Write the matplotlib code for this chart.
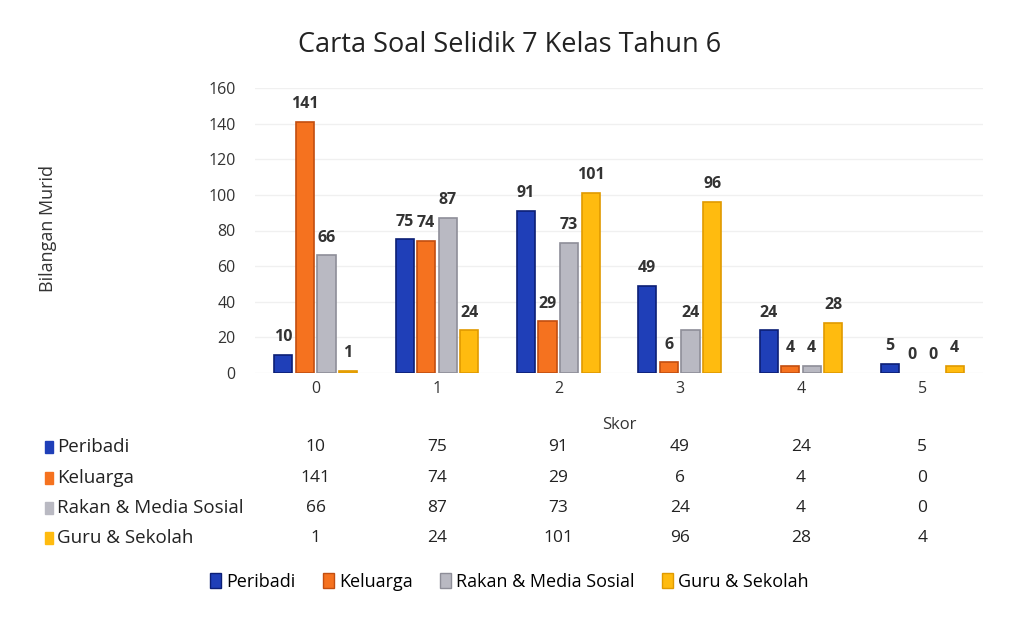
import matplotlib
matplotlib.use("Agg")
import matplotlib.pyplot as plt
import numpy as np
from matplotlib.patches import Patch
import matplotlib.transforms as mtransforms

skor = ["0", "1", "2", "3", "4", "5"]
series = ["Peribadi", "Keluarga", "Rakan & Media Sosial", "Guru & Sekolah"]
peribadi = [10, 75, 91, 49, 24, 5]
keluarga = [141, 74, 29, 6, 4, 0]
rakan = [66, 87, 73, 24, 4, 0]
guru = [1, 24, 101, 96, 28, 4]

colors = ["#1f3fb8", "#f5721f", "#b9b9c2", "#ffbb0f"]
edges = ["#0c1f75", "#c24e10", "#8e8e98", "#e09a00"]
font = "Open Sans"

fig = plt.figure(figsize=(10.09, 6.22), dpi=100)
fig.patch.set_facecolor("white")
ax = fig.add_axes([255 / 1009, 1 - 373 / 622, (983 - 255) / 1009, (373 - 88) / 622])

x = np.arange(len(skor))
width = 0.15
step = 0.178
data = [peribadi, keluarga, rakan, guru]
for i, vals in enumerate(data):
    pos = x + (i - 1.5) * step
    lw = [1.2 if v > 0 else 0 for v in vals]  # no outline for empty bars
    ax.bar(pos, vals, width, color=colors[i], edgecolor=edges[i], linewidth=lw, zorder=3)
    for px, v in zip(pos, vals):
        ax.annotate(str(v), xy=(px, v), xytext=(0, 7), textcoords="offset points",
                    ha="center", va="bottom", fontsize=11.5, fontweight="bold",
                    family=font, color="#333333")

ax.set_xlim(-0.5, 5.5)
ax.set_ylim(0, 160)
ax.set_yticks(range(0, 161, 20))
ax.set_xticks(x)
ax.set_xticklabels(skor)
ax.tick_params(axis="y", length=0, labelsize=11.5, labelcolor="#333333", pad=14)
ax.tick_params(axis="x", length=0, labelsize=11.5, labelcolor="#333333", pad=6)
for lab in ax.get_xticklabels() + ax.get_yticklabels():
    lab.set_family(font)
ax.yaxis.grid(True, color="#f0f0f0", linewidth=1, zorder=0)
for s in ax.spines.values():
    s.set_visible(False)

ax.set_xlabel("Skor", family=font, fontsize=12, color="#333333", labelpad=14)
fig.text(48 / 1009, 1 - 228 / 622, "Bilangan Murid", rotation=90, ha="center", va="center",
         family=font, fontsize=13, color="#333333")
fig.text(0.505, 1 - 45 / 622, "Carta Soal Selidik 7 Kelas Tahun 6", ha="center", va="center",
         family=font, fontsize=19.5, color="#222222")

# data table under the chart
trans = mtransforms.blended_transform_factory(ax.transData, fig.transFigure)
row_y = [447, 478, 508, 538]
for i, (name, vals) in enumerate(zip(series, data)):
    yy = 1 - row_y[i] / 622
    fig.patches.append(plt.Rectangle((45 / 1009, yy - 0.01), 8 / 1009, 0.02,
                                     transform=fig.transFigure, color=colors[i]))
    fig.text(57 / 1009, yy, name, ha="left", va="center", family=font,
             fontsize=13.5, color="#222222")
    for px, v in zip(x, vals):
        fig.text(px, yy, str(v), transform=trans, ha="center", va="center",
                 family=font, fontsize=12.5, color="#222222")

handles = [Patch(facecolor=c, edgecolor=e) for c, e in zip(colors, edges)]
fig.legend(handles, series, loc="center", bbox_to_anchor=(0.505, 1 - 582 / 622), ncol=4,
           frameon=False, prop={"family": font, "size": 13}, handlelength=0.6,
           handleheight=0.9, handletextpad=0.3, columnspacing=1.5)

fig.savefig("out.png", dpi=100)
